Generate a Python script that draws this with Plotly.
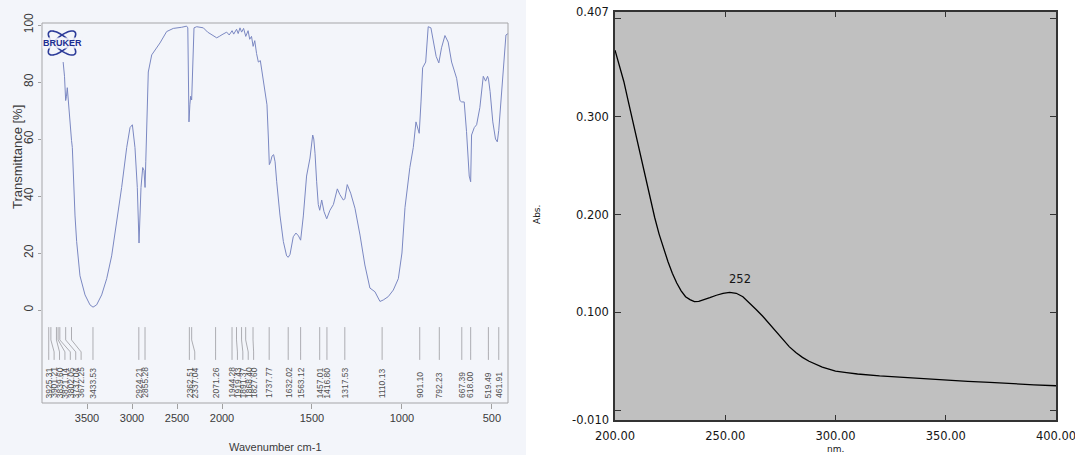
import numpy as np
import plotly.graph_objects as go

W, H = 1075, 455

# ---------------- IR spectrum (left) ----------------
ir_wavenumber = [3765, 3750, 3737, 3728, 3719, 3707, 3689, 3672, 3663, 3652, 3633, 3615, 3578, 3522,
                 3467, 3433, 3393, 3337, 3281, 3226, 3170, 3115, 3059, 3022, 2996, 2985, 2967, 2941,
                 2922, 2900, 2881, 2867, 2855, 2847, 2837, 2819, 2781, 2689, 2615, 2541, 2448, 2393,
                 2380, 2367, 2357, 2348, 2337, 2325, 2311, 2281, 2207, 2160, 2115, 2059, 2030, 2000,
                 1974, 1960, 1944, 1935, 1919, 1910, 1900, 1891, 1880, 1868, 1855, 1846, 1836, 1827,
                 1818, 1808, 1798, 1787, 1778, 1765, 1750, 1742, 1737, 1730, 1722, 1713, 1705, 1696,
                 1678, 1659, 1641, 1632, 1622, 1604, 1589, 1575, 1563, 1548, 1530, 1511, 1496, 1490,
                 1483, 1474, 1465, 1457, 1446, 1433, 1418, 1400, 1381, 1359, 1345, 1326, 1317, 1304,
                 1285, 1261, 1233, 1206, 1178, 1150, 1122, 1104, 1076, 1048, 1020, 1000, 983, 956,
                 937, 922, 913, 904, 894, 885, 868, 854, 839, 821, 810, 795, 780, 761, 743, 724,
                 696, 678, 668, 654, 641, 626, 618, 613, 598, 585, 567, 548, 535, 524, 519, 510,
                 495, 480, 470, 462, 456, 437, 422, 410]
ir_transmittance = [87, 82, 73.5, 75, 78, 72.6, 65, 59.5, 57, 45, 33, 24, 12, 5.3,
                    1.8, 1.0, 1.8, 5.3, 11, 19, 31, 43, 57, 64, 65, 62, 57, 43,
                    23.5, 43, 50, 49, 43, 52, 68, 83.5, 89.5, 93.7, 97.7, 98.8, 99.2, 99.6,
                    99, 66, 72, 75, 73.7, 85, 99, 99.4, 99, 97.5, 96.5, 95.5, 96, 96.6,
                    97.5, 96.5, 98, 96.8, 98.5, 97, 99, 97.5, 98.8, 96, 98, 95, 96, 92.5,
                    94.5, 90, 87, 87.5, 84, 79, 72, 60, 51, 52, 54, 54.5, 52, 45,
                    33.3, 24, 19, 18.5, 19.5, 25.7, 27, 26, 24.5, 33, 47, 53.3, 61.4, 60,
                    55, 45, 37, 35, 38.6, 34.5, 32, 35, 37, 42.5, 40.5, 38.6, 39, 44,
                    41, 35.7, 26.3, 15.8, 7.7, 6.4, 3.0, 3.5, 4.7, 7, 11, 20, 36, 50,
                    57, 66, 64, 62, 73, 85, 87, 99.4, 99, 92, 89, 86.7, 92, 96.3, 94, 87,
                    81.3, 73.5, 73, 73, 62.6, 47, 45, 61.4, 64, 65, 71, 82, 80.3, 82, 81, 76.6,
                    66, 60, 59, 63, 68.4, 86, 96.5, 97]

ir_peaks = ["3925.31", "3901.21", "3839.60", "3821.14", "3802.05", "3737.04", "3672.25", "3433.53",
            "2924.21", "2855.28", "2362.51", "2337.04", "2071.26", "1944.28", "1919.43", "1891.37",
            "1868.40", "1827.60", "1737.77", "1632.02", "1563.12", "1457.01", "1416.80", "1317.53",
            "1110.13", "901.10", "792.23", "667.39", "618.00", "519.49", "461.91"]

ir_xticks_hi = [3500, 3000, 2500]
ir_xticks_lo = [2000, 1500, 1000, 500]
ir_yticks = [0, 20, 40, 60, 80, 100]

# ---------------- UV spectrum (right) ----------------
uv_nm = [200, 202, 204, 206, 208, 210, 212, 214, 216, 218, 220, 222, 224, 226, 228, 230, 232, 234,
         236, 238, 240, 243, 246, 249, 252, 255, 258, 261, 264, 267, 270, 273, 276, 279, 282, 285,
         288, 291, 294, 297, 300, 305, 310, 320, 330, 340, 350, 360, 370, 380, 390, 400]
uv_abs = [0.368, 0.352, 0.336, 0.316, 0.296, 0.275, 0.255, 0.235, 0.216, 0.197, 0.180, 0.165,
          0.152, 0.140, 0.130, 0.122, 0.116, 0.113, 0.111, 0.1112, 0.1125, 0.115, 0.1175, 0.1195,
          0.1205, 0.1195, 0.116, 0.110, 0.103, 0.096, 0.088, 0.080, 0.072, 0.065, 0.059, 0.054,
          0.050, 0.047, 0.044, 0.042, 0.040, 0.0385, 0.037, 0.035, 0.0335, 0.032, 0.031, 0.0295,
          0.0285, 0.027, 0.026, 0.025]
uv_xticks = [200, 250, 300, 350, 400]
uv_xlabels = ["200.00", "250.00", "300.00", "350.00", "400.00"]
uv_ylabel_vals = [0.407, 0.300, 0.200, 0.100, -0.010]
uv_ylabels = ["0.407", "0.300", "0.200", "0.100", "-0.010"]
uv_yticks = [0.0, 0.1, 0.2, 0.3, 0.4]
uv_peak_label = ("252", 256.8, 0.1345)

# ---------------- layout geometry (pixels) ----------------
L_LEFT, L_SPLIT, L_RIGHT = 42, 222, 509
L_TOP, L_BOTTOM = 23, 403
IR_YMIN, IR_YMAX = -32.63, 100.7
R_LEFT, R_RIGHT, R_TOP, R_BOTTOM = 615, 1056, 12, 420

def px(p):
    return p / W

def py(p):
    return 1 - p / H

IR_COLOR = "#7b88c2"
TXT = "#3a3a3a"

fig = go.Figure()

wn = np.array(ir_wavenumber, dtype=float)
tr = np.array(ir_transmittance, dtype=float)
hi = wn >= 2000
lo = wn <= 2000
fig.add_trace(go.Scatter(x=wn[hi], y=tr[hi], mode="lines", xaxis="x", yaxis="y",
                         line=dict(color=IR_COLOR, width=1), hoverinfo="skip", showlegend=False))
fig.add_trace(go.Scatter(x=wn[lo], y=tr[lo], mode="lines", xaxis="x2", yaxis="y",
                         line=dict(color=IR_COLOR, width=1), hoverinfo="skip", showlegend=False))
fig.add_trace(go.Scatter(x=uv_nm, y=uv_abs, mode="lines", xaxis="x3", yaxis="y3",
                         line=dict(color="#000000", width=1.3), hoverinfo="skip", showlegend=False))

shapes = []
annotations = []

# backgrounds
shapes.append(dict(type="rect", xref="paper", yref="paper", x0=0, x1=px(526), y0=0, y1=1,
                   fillcolor="#f3f5fa", line=dict(width=0), layer="below"))
shapes.append(dict(type="rect", xref="x3 domain", yref="y3 domain", x0=0, x1=1, y0=0, y1=1,
                   fillcolor="#c0c0c0", line=dict(width=0), layer="below"))
# IR frame
shapes.append(dict(type="rect", xref="paper", yref="paper", x0=px(L_LEFT), x1=px(508),
                   y0=py(L_BOTTOM), y1=py(L_TOP), line=dict(color="#a5a5a8", width=1),
                   fillcolor="rgba(0,0,0,0)", layer="above"))

# IR peak labels with leader lines
hi_scale = (L_SPLIT - L_LEFT) / 2000.0
lo_scale = (L_RIGHT - L_SPLIT) / (2000 - 405.0)
prev = -1e9
for lab in ir_peaks:
    w = float(lab)
    if w >= 2000:
        actual = L_LEFT + (4000 - w) * hi_scale
        xr = "x"
    else:
        actual = L_SPLIT + (2000 - w) * lo_scale
        xr = "x2"
    pos = max(actual, prev + 5.4)
    prev = pos
    off = pos - actual
    lc = dict(color="#9a9aa0", width=0.8)
    shapes.append(dict(type="line", xref=xr, yref="y", xsizemode="pixel", xanchor=w,
                       x0=0, x1=0, y0=-6, y1=-10.5, line=lc))
    shapes.append(dict(type="line", xref=xr, yref="y", xsizemode="pixel", xanchor=w,
                       x0=0, x1=off, y0=-10.5, y1=-14.7, line=lc))
    shapes.append(dict(type="line", xref=xr, yref="y", xsizemode="pixel", xanchor=w,
                       x0=off, x1=off, y0=-14.7, y1=-17.5, line=lc))
    annotations.append(dict(text=lab, x=w, xref=xr, y=-31.3, yref="y", xshift=off,
                            textangle=-90, xanchor="center", yanchor="bottom", showarrow=False,
                            borderpad=0,
                            font=dict(family="Liberation Sans, Arial", size=8.5, color="#505050")))

# Bruker logo
cx, cy = 62, 43
for ang in (40, -40):
    t = np.linspace(0, 2 * np.pi, 60)
    a, b = 17, 6.5
    th = np.deg2rad(ang)
    xs = cx + a * np.cos(t) * np.cos(th) - b * np.sin(t) * np.sin(th)
    ys = cy + a * np.cos(t) * np.sin(th) + b * np.sin(t) * np.cos(th)
    path = "M " + " L ".join(f"{px(x):.5f},{py(y):.5f}" for x, y in zip(xs, ys)) + " Z"
    shapes.append(dict(type="path", xref="paper", yref="paper", path=path,
                       line=dict(color="#2b3a98", width=1.6)))
annotations.append(dict(text="<b>BRUKER</b>", x=px(cx), y=py(cy), xref="paper", yref="paper",
                        xanchor="center", yanchor="middle",
                        showarrow=False, font=dict(family="Liberation Sans, Arial", size=9, color="#1d2d92"),
                        bgcolor="rgba(243,245,250,0.85)", borderpad=0))

# IR axis titles
annotations.append(dict(text="Transmittance [%]", x=px(17), y=py(157), xref="paper", yref="paper",
                        xanchor="center", yanchor="middle", textangle=-90, showarrow=False,
                        font=dict(family="Liberation Sans, Arial", size=13, color=TXT)))
annotations.append(dict(text="Wavenumber cm-1", x=px(275), y=py(447), xref="paper", yref="paper",
                        xanchor="center", yanchor="middle",
                        showarrow=False, font=dict(family="Liberation Sans, Arial", size=11, color=TXT)))

# UV labels
UVF = dict(family="DejaVu Sans, Verdana", size=11.5, color="#151515")
for v, t in zip(uv_ylabel_vals, uv_ylabels):
    annotations.append(dict(text=t, x=px(R_LEFT - 4), y=v, xref="paper", yref="y3",
                            xanchor="right", yanchor="middle", showarrow=False, font=UVF))
annotations.append(dict(text=uv_peak_label[0], x=uv_peak_label[1], y=uv_peak_label[2],
                        xref="x3", yref="y3", showarrow=False, font=UVF))
annotations.append(dict(text="Abs.", x=px(537), y=py(215), xref="paper", yref="paper",
                        xanchor="center", yanchor="middle",
                        textangle=-90, showarrow=False,
                        font=dict(family="DejaVu Sans, Verdana", size=9, color="#151515")))
annotations.append(dict(text="nm.", x=px(835), y=py(449), xref="paper", yref="paper",
                        xanchor="center", yanchor="middle", borderpad=0,
                        showarrow=False, font=dict(family="DejaVu Sans, Verdana", size=9, color="#151515")))

irtick = dict(family="Liberation Sans, Arial", size=11, color=TXT)
fig.update_layout(
    width=W, height=H,
    margin=dict(l=0, r=0, t=0, b=0, pad=0, autoexpand=False),
    paper_bgcolor="#ffffff",
    plot_bgcolor="rgba(0,0,0,0)",
    showlegend=False,
    xaxis=dict(domain=[px(L_LEFT), px(L_SPLIT)], range=[4000, 2000], anchor="y",
               tickvals=ir_xticks_hi, ticks="outside", ticklen=5, tickcolor="#a0a0a0",
               showgrid=False, zeroline=False, showline=False, tickfont=irtick),
    xaxis2=dict(domain=[px(L_SPLIT), px(L_RIGHT)], range=[2000, 405], anchor="y",
                tickvals=ir_xticks_lo, ticks="outside", ticklen=5, tickcolor="#a0a0a0",
                showgrid=False, zeroline=False, showline=False, tickfont=irtick),
    yaxis=dict(domain=[py(L_BOTTOM), py(L_TOP)], range=[IR_YMIN, IR_YMAX], anchor="x",
               tickvals=ir_yticks, ticks="outside", ticklen=3, tickcolor="#a0a0a0",
               tickangle=-90, showgrid=False, zeroline=False, showline=False,
               tickfont=dict(family="Liberation Sans, Arial", size=12, color=TXT)),
    xaxis3=dict(domain=[px(R_LEFT), px(R_RIGHT)], range=[200, 400], anchor="y3",
                tickvals=uv_xticks, ticktext=uv_xlabels, ticks="inside", ticklen=5,
                tickcolor="#333333", mirror="ticks", showline=True, linecolor="#333333",
                linewidth=1.5, showgrid=False, zeroline=False, tickfont=UVF,
                ticklabeloverflow="allow", ticklabelstandoff=4),
    yaxis3=dict(domain=[py(R_BOTTOM), py(R_TOP)], range=[-0.010, 0.407], anchor="x3",
                tickvals=uv_yticks, ticks="inside", ticklen=6, tickcolor="#333333",
                mirror="ticks", showline=True, linecolor="#333333", linewidth=1.5,
                showticklabels=False, showgrid=False, zeroline=False),
    shapes=shapes,
    annotations=annotations,
)

fig.write_html("out.html")
